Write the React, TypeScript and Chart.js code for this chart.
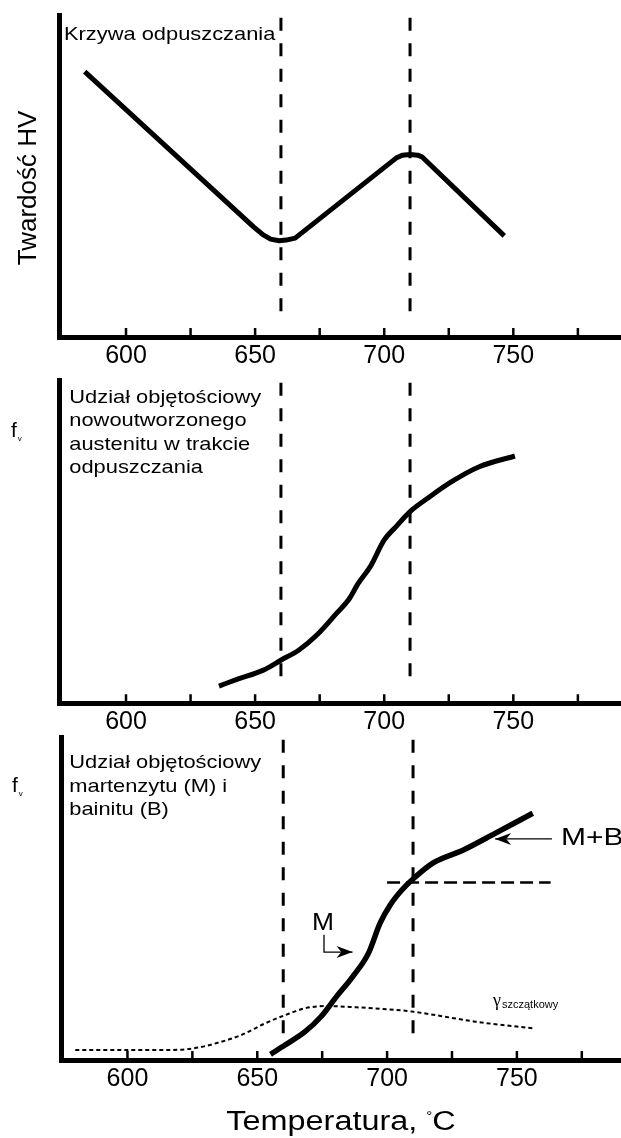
import React, { useEffect, useRef } from 'react';
import { Chart, registerables } from 'chart.js';

Chart.register(...registerables);

const PAGE_W = 621;
const PAGE_H = 1138;
const FONT = "'Liberation Sans', Arial, sans-serif";

// ---------- shared axis ----------
const tickValues = [600, 625, 650, 675, 700, 725, 750, 775];
const labeledTicks = [600, 650, 700, 750];
const markerTemps = [660, 710];
const markerSpan = [98.5, 7.5];

// ---------- panel 1: hardness ----------
const hvTemps = [584, 649.4, 653, 656, 659.3, 662, 665.5, 704.6, 707, 710, 713, 714.6, 746.5];
const hvValues = [81.9, 34.0, 31.6, 30.2, 29.7, 29.9, 30.5, 55.2, 56.1, 56.3, 56.1, 55.6, 31.2];

// ---------- panel 2: new austenite fraction ----------
const austTemps = [636.0, 643.2, 653.2, 660.1, 667.0, 673.9, 681.6, 686.2, 690.0, 694.6, 700.0, 704.6, 710.0, 716.8, 726.1, 736.8, 750.6];
const austValues = [5.3, 7.4, 10.2, 13.3, 16.4, 21.0, 27.7, 31.8, 36.9, 42.0, 50.2, 54.3, 58.9, 63.0, 68.1, 72.7, 76.0];

// ---------- panel 3: martensite + bainite, retained austenite ----------
const mbTemps = [655.1, 660.7, 668.4, 674.5, 680.5, 686.7, 692.8, 697.3, 701.2, 705.7, 710.3, 717.9, 729.4, 741.6, 756.1];
const mbValues = [1.75, 4.6, 8.7, 13.3, 19.5, 25.6, 32.8, 42.1, 47.7, 52.3, 55.9, 60.7, 64.6, 69.7, 75.9];
const gammaTemps = [579.9, 599.7, 616.5, 625.6, 634.8, 643.9, 653.1, 660.7, 668.4, 676.0, 688.2, 703.4, 709.6, 718.7, 733.9, 756.9];
const gammaValues = [3.1, 3.1, 3.1, 3.6, 5.3, 7.7, 11.3, 13.8, 15.9, 16.6, 16.2, 15.4, 14.9, 13.8, 11.8, 9.7];
const plateauTemps = [700, 763];
const plateauValue = 54.6;

// ---------- texts ----------
const panel1Title = ['Krzywa odpuszczania'];
const panel2Title = ['Udział objętościowy', 'nowoutworzonego', 'austenitu w trakcie', 'odpuszczania'];
const panel3Title = ['Udział objętościowy', 'martenzytu (M) i', 'bainitu (B)'];
const hvAxisTitle = 'Twardość HV';
const xAxisTitle = ['Temperatura, ', '°', 'C'];

// annotation anchors in data coordinates (panel 3)
const mbArrow = [[763.5, 68], [741.6, 68]];
const mbLabel = { x: 767, y: 66.2, text: 'M+B' };
const mArrow = [[675.7, 38.5], [675.7, 33.2], [686.7, 33.2]];
const mLabel = { x: 675.3, y: 40, text: 'M' };
const gammaLabel = { x: 740.8, y: 16.6, text: 'γ', sub: 'szczątkowy' };

const Y_MAX = 99.2;
const X_H = 40;

type Ctx = CanvasRenderingContext2D;

function stretchedText(ctx: Ctx, text: string, x: number, y: number, size: number, stretch: number, align: 'left' | 'center' = 'left', family = FONT) {
  ctx.save();
  ctx.font = `${size}px ${family}`;
  ctx.textBaseline = 'alphabetic';
  ctx.textAlign = 'left';
  const w = ctx.measureText(text).width * stretch;
  const x0 = align === 'center' ? x - w / 2 : x;
  ctx.translate(x0, y);
  ctx.scale(stretch, 1);
  ctx.fillStyle = '#000';
  ctx.fillText(text, 0, 0);
  ctx.restore();
  return w;
}

function measure(ctx: Ctx, text: string, size: number, stretch: number) {
  ctx.save();
  ctx.font = `${size}px ${FONT}`;
  const w = ctx.measureText(text).width * stretch;
  ctx.restore();
  return w;
}

function arrow(ctx: Ctx, pts: number[][], head = 16, half = 6) {
  ctx.save();
  ctx.strokeStyle = '#000';
  ctx.fillStyle = '#000';
  ctx.lineWidth = 1.3;
  ctx.beginPath();
  ctx.moveTo(pts[0][0], pts[0][1]);
  for (let i = 1; i < pts.length; i++) ctx.lineTo(pts[i][0], pts[i][1]);
  ctx.stroke();
  const [x1, y1] = pts[pts.length - 2];
  const [x2, y2] = pts[pts.length - 1];
  const a = Math.atan2(y2 - y1, x2 - x1);
  const c = Math.cos(a), s = Math.sin(a);
  ctx.beginPath();
  ctx.moveTo(x2, y2);
  ctx.lineTo(x2 - head * c + half * s, y2 - head * s - half * c);
  ctx.lineTo(x2 - head * 0.7 * c, y2 - head * 0.7 * s);
  ctx.lineTo(x2 - head * c - half * s, y2 - head * s + half * c);
  ctx.closePath();
  ctx.fill();
  ctx.restore();
}

function fv(ctx: Ctx, x: number, baseline: number) {
  ctx.save();
  ctx.fillStyle = '#000';
  ctx.textBaseline = 'alphabetic';
  ctx.font = `21px ${FONT}`;
  ctx.fillText('f', x, baseline);
  const w = ctx.measureText('f').width;
  ctx.font = `8px ${FONT}`;
  ctx.fillText('v', x + w + 1, baseline + 4);
  ctx.restore();
}

function drawTicks(chart: any) {
  const ctx: Ctx = chart.ctx;
  const xs = chart.scales.x;
  const { bottom } = chart.chartArea;
  ctx.save();
  ctx.strokeStyle = '#000';
  ctx.lineWidth = 2.5;
  ctx.beginPath();
  for (const v of tickValues) {
    const px = xs.getPixelForValue(v);
    ctx.moveTo(px, bottom);
    ctx.lineTo(px, bottom - 9);
  }
  ctx.stroke();
  ctx.restore();
}

function titleLines(chart: any, lines: string[], dx: number, firstBaseline: number, step: number) {
  const ctx: Ctx = chart.ctx;
  const { left, top } = chart.chartArea;
  lines.forEach((t, i) => stretchedText(ctx, t, left + dx, top + firstBaseline + i * step, 19, 1.15));
}

const markerDatasets = markerTemps.map((t) => ({
  data: markerSpan.map((v) => ({ x: t, y: v })),
  borderColor: '#000',
  borderWidth: 3,
  borderDash: [13, 12.5],
  pointRadius: 0,
  tension: 0,
  fill: false,
}));

function curve(xs: number[], ys: number[], width: number, extra: any = {}) {
  return {
    data: xs.map((x, i) => ({ x, y: ys[i] })),
    borderColor: '#000',
    borderWidth: width,
    pointRadius: 0,
    cubicInterpolationMode: 'monotone',
    borderJoinStyle: 'round',
    fill: false,
    ...extra,
  };
}

const panels = [
  {
    top: 15.5, bottom: 337, left: 59, xMin: 574.05, xMax: 791.7,
    datasets: [curve(hvTemps, hvValues, 5, { cubicInterpolationMode: 'default', tension: 0 }), ...markerDatasets],
    draw: (chart: any) => {
      const ctx: Ctx = chart.ctx;
      titleLines(chart, panel1Title, 5, 24.5, 23.3);
      ctx.save();
      ctx.fillStyle = '#000';
      ctx.font = `26px ${FONT}`;
      ctx.textAlign = 'center';
      ctx.textBaseline = 'alphabetic';
      ctx.translate(35.5, 188);
      ctx.rotate(-Math.PI / 2);
      ctx.fillText(hvAxisTitle, 0, 0);
      ctx.restore();
    },
  },
  {
    top: 380.5, bottom: 703.3, left: 59, xMin: 574.05, xMax: 791.7,
    datasets: [curve(austTemps, austValues, 5), ...markerDatasets],
    draw: (chart: any) => {
      titleLines(chart, panel2Title, 10.3, 22.5, 23.4);
      fv(chart.ctx, 11, 436.7);
    },
  },
  {
    top: 737.5, bottom: 1060, left: 61, xMin: 574.4, xMax: 790.1,
    datasets: [
      curve(mbTemps, mbValues, 5.5),
      curve(gammaTemps, gammaValues, 2, { borderDash: [4, 3] }),
      {
        data: plateauTemps.map((x) => ({ x, y: plateauValue })),
        borderColor: '#000', borderWidth: 2.5, borderDash: [13, 6], pointRadius: 0, tension: 0, fill: false,
      },
      ...markerDatasets,
    ],
    draw: (chart: any) => {
      const ctx: Ctx = chart.ctx;
      const xs = chart.scales.x, ys = chart.scales.y;
      const P = (p: number[]) => [xs.getPixelForValue(p[0]), ys.getPixelForValue(p[1])];
      titleLines(chart, panel3Title, 8.3, 30.8, 23.4);
      fv(ctx, 12, 791.7);
      arrow(ctx, mbArrow.map(P));
      arrow(ctx, mArrow.map(P));
      stretchedText(ctx, mbLabel.text, xs.getPixelForValue(mbLabel.x), ys.getPixelForValue(mbLabel.y), 24, 1.25);
      stretchedText(ctx, mLabel.text, xs.getPixelForValue(mLabel.x), ys.getPixelForValue(mLabel.y), 24, 1.1, 'center');
      const gx = xs.getPixelForValue(gammaLabel.x), gy = ys.getPixelForValue(gammaLabel.y);
      const gw = stretchedText(ctx, gammaLabel.text, gx, gy, 18, 1, 'left', "'Liberation Serif', serif");
      stretchedText(ctx, gammaLabel.sub, gx + gw + 1, gy + 2, 10, 1.1);
      // x-axis title
      const { left, right, bottom } = chart.chartArea;
      const size = 27, st = 1.2;
      const w1 = measure(ctx, xAxisTitle[0], size, st);
      const w2 = measure(ctx, xAxisTitle[1], 15, 1);
      const w3 = measure(ctx, xAxisTitle[2], size, st);
      const total = w1 + w2 + w3;
      let x = (left + right) / 2 - total / 2;
      const base = bottom + 70;
      stretchedText(ctx, xAxisTitle[0], x, base, size, st);
      x += w1;
      stretchedText(ctx, xAxisTitle[1], x, base - 9, 15, 1);
      x += w2;
      stretchedText(ctx, xAxisTitle[2], x, base, size, st);
    },
  },
];

function makeConfig(p: any) {
  return {
    type: 'line',
    data: { datasets: p.datasets },
    options: {
      responsive: false,
      animation: false,
      events: [],
      layout: { padding: { left: p.left, top: p.top, right: 0, bottom: PAGE_H - p.bottom - X_H } },
      plugins: { legend: { display: false }, tooltip: { enabled: false }, title: { display: false } },
      scales: {
        x: {
          type: 'linear',
          position: 'bottom',
          min: p.xMin,
          max: p.xMax,
          afterBuildTicks: (s: any) => { s.ticks = tickValues.map((v) => ({ value: v })); },
          afterFit: (s: any) => { s.height = X_H; },
          grid: { display: false, drawTicks: false },
          border: { display: true, color: '#000', width: 5 },
          ticks: {
            autoSkip: false,
            maxRotation: 0,
            padding: 4,
            color: '#000',
            font: { family: FONT, size: 25 },
            callback: (v: number) => (labeledTicks.includes(v) ? String(v) : ''),
          },
        },
        y: {
          type: 'linear',
          min: 0,
          max: Y_MAX,
          afterFit: (s: any) => { s.width = 0; },
          grid: { display: false, drawTicks: false },
          border: { display: true, color: '#000', width: 5 },
          ticks: { display: false },
        },
      },
    },
    plugins: [
      {
        id: 'annot',
        afterDraw: (chart: any) => {
          drawTicks(chart);
          p.draw(chart);
        },
      },
    ],
  };
}

function Panel({ cfg }: { cfg: any }) {
  const ref = useRef<HTMLCanvasElement>(null);
  useEffect(() => {
    const chart = new Chart(ref.current as HTMLCanvasElement, makeConfig(cfg) as any);
    return () => chart.destroy();
  }, [cfg]);
  return (
    <canvas
      ref={ref}
      width={PAGE_W}
      height={PAGE_H}
      style={{ position: 'absolute', left: 0, top: 0, width: PAGE_W, height: PAGE_H }}
    />
  );
}

export default function App() {
  return (
    <div style={{ position: 'fixed', left: 0, top: 0, width: PAGE_W, height: PAGE_H, background: '#fff', overflow: 'hidden' }}>
      {panels.map((p, i) => (
        <Panel key={i} cfg={p} />
      ))}
    </div>
  );
}
